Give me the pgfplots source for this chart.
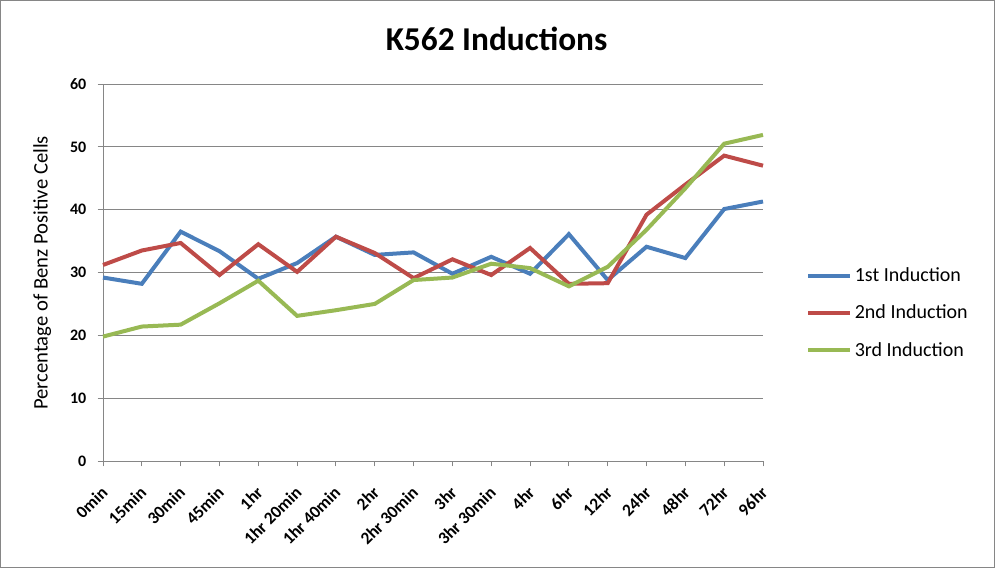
\documentclass[border=0pt]{standalone}
\usepackage{pgfplots}
\pgfplotsset{compat=1.18}
\usepackage{fontspec}
\setmainfont{Carlito}
\definecolor{c1}{HTML}{4A7EBB}
\definecolor{c2}{HTML}{BE4B48}
\definecolor{c3}{HTML}{98B954}
\definecolor{gridc}{HTML}{868686}
\begin{document}
\begin{tikzpicture}
\useasboundingbox (0,0) rectangle (746.25pt,426pt);
\draw[gridc, line width=0.75pt] (0.375pt,0.375pt) rectangle (745.875pt,425.625pt);
\begin{axis}[
  at={(77.25pt,80.25pt)}, anchor=south west,
  scale only axis, width=495pt, height=282.75pt,
  xmin=0, xmax=17, ymin=0, ymax=60,
  xtick={0,...,17},
  xticklabels={0min,15min,30min,45min,1hr,1hr 20min,1hr 40min,2hr,2hr 30min,3hr,3hr 30min,4hr,6hr,12hr,24hr,48hr,72hr,96hr},
  ytick={0,10,...,60},
  axis lines*=left,
  axis line style={gridc, line width=0.75pt},
  tick style={gridc, line width=0.75pt},
  major tick length=4pt,
  tick align=outside,
  ymajorgrids, grid style={gridc, line width=0.75pt},
  tick label style={font=\fontsize{12}{14}\selectfont\bfseries},
  /pgf/number format/assume math mode=true,
  yticklabel style={xshift=-5pt},
  xticklabel style={font=\fontsize{13}{15}\selectfont\bfseries, xshift=3.5pt, yshift=-15pt, rotate=45, anchor=east},
  ylabel={Percentage of Benz Positive Cells},
  ylabel style={font=\fontsize{15.5}{18}\selectfont, at={(axis description cs:-0.092,0.4987)}, anchor=center, rotate=0},
  legend style={at={(1.065,0.3926)}, anchor=west, draw=none, fill=none,
    font=\fontsize{15}{18}\selectfont, row sep=12pt, inner sep=0pt,
    /tikz/every odd column/.append style={column sep=0pt}},
  legend cell align=left,
  legend image code/.code={\draw[#1, line width=3pt] (0pt,0pt) -- (31.5pt,0pt);},
  clip=false,
]
\addplot[c1, line width=3pt] coordinates {
(0,29.2) (1,28.2) (2,36.5) (3,33.4) (4,29.0) (5,31.5) (6,35.7) (7,32.8) (8,33.2) (9,29.8) (10,32.5) (11,29.8) (12,36.1) (13,28.8) (14,34.1) (15,32.3) (16,40.1) (17,41.3)};
\addlegendentry{1st Induction}
\addplot[c2, line width=3pt] coordinates {
(0,31.2) (1,33.5) (2,34.7) (3,29.6) (4,34.5) (5,30.1) (6,35.7) (7,33.1) (8,29.1) (9,32.1) (10,29.6) (11,33.9) (12,28.2) (13,28.3) (14,39.2) (15,44.0) (16,48.6) (17,47.0)};
\addlegendentry{2nd Induction}
\addplot[c3, line width=3pt] coordinates {
(0,19.8) (1,21.4) (2,21.7) (3,25.1) (4,28.7) (5,23.1) (6,24.0) (7,25.0) (8,28.8) (9,29.2) (10,31.4) (11,30.7) (12,27.8) (13,30.9) (14,36.8) (15,43.4) (16,50.5) (17,51.9)};
\addlegendentry{3rd Induction}
\end{axis}
\node[font=\fontsize{25}{30}\selectfont\bfseries, anchor=base] at (372.4pt,387.75pt) {K562 Inductions};
\end{tikzpicture}
\end{document}
